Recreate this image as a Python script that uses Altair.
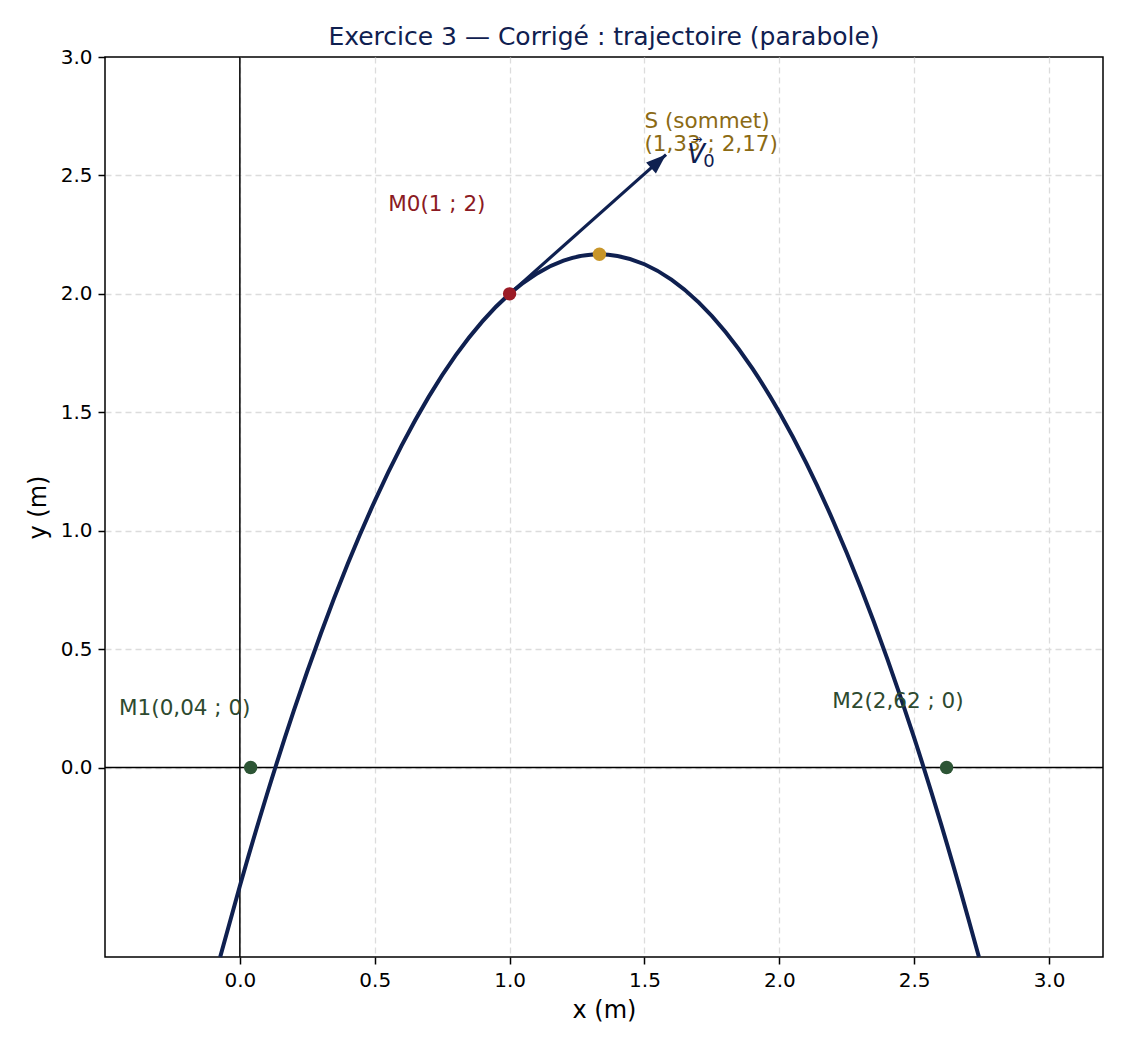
import math
import pandas as pd
import altair as alt

# trajectory (x in m, y in m)
curve_x = [-0.073, 0.0, 0.1, 0.2, 0.3, 0.4, 0.5, 0.6, 0.7, 0.8, 0.9, 1.0, 1.1, 1.2, 1.333,
           1.4, 1.5, 1.6, 1.7, 1.8, 1.9, 2.0, 2.1, 2.2, 2.3, 2.4, 2.5, 2.6, 2.7, 2.74]
curve_y = [-0.8, -0.5, -0.115, 0.24, 0.565, 0.86, 1.125, 1.36, 1.565, 1.74, 1.885, 2.0, 2.085,
           2.14, 2.167, 2.16, 2.125, 2.06, 1.965, 1.84, 1.685, 1.5, 1.285, 1.04, 0.765, 0.46,
           0.125, -0.24, -0.635, -0.8]

# marked points
pt_names = ["M0", "S", "M1", "M2"]
pt_x = [1.0, 1.333, 0.04, 2.62]
pt_y = [2.0, 2.167, 0.0, 0.0]
pt_colors = ["#9b1b26", "#c8962a", "#2d5535", "#2d5535"]

# annotations
lab_text = ["M0(1 ; 2)", "S (sommet)\n(1,33 ; 2,17)", "M1(0,04 ; 0)", "M2(2,62 ; 0)"]
lab_x = [0.55, 1.5, -0.448, 2.196]
lab_y = [2.35, 2.70, 0.22, 0.25]
lab_colors = ["#8b1a23", "#8b6a14", "#2e4a30", "#2e4a30"]

# initial velocity vector
vec_x = [1.0, 1.58]
vec_y = [2.0, 2.588]

x_ticks = [0.0, 0.5, 1.0, 1.5, 2.0, 2.5, 3.0]
y_ticks = [0.0, 0.5, 1.0, 1.5, 2.0, 2.5, 3.0]
x_dom = [-0.5, 3.2]
y_dom = [-0.8, 3.0]

W, H = 998, 900
NAVY = "#0f2050"

xs = alt.Scale(domain=x_dom, nice=False, zero=False)
ys = alt.Scale(domain=y_dom, nice=False, zero=False)
x_axis = alt.Axis(values=x_ticks, format=".1f", title="x (m)")
y_axis = alt.Axis(
    values=y_ticks, format=".1f", title="y (m)",
    gridOpacity={"condition": {"test": f"datum.value >= {y_dom[1]}", "value": 0}, "value": 1},
)


def X(field="x"):
    return alt.X(f"{field}:Q", scale=xs, axis=x_axis)


def Y(field="y"):
    return alt.Y(f"{field}:Q", scale=ys, axis=y_axis)


curve_df = pd.DataFrame({"x": curve_x, "y": curve_y, "o": range(len(curve_x))})
pts_df = pd.DataFrame({"name": pt_names, "x": pt_x, "y": pt_y, "c": pt_colors})
lab_df = pd.DataFrame({"label": lab_text, "x": lab_x, "y": lab_y, "c": lab_colors})
vec_df = pd.DataFrame({"x": vec_x, "y": vec_y, "o": [0, 1]})
head_df = vec_df.iloc[[1]]

# arrow head orientation in screen space
dxp = (vec_x[1] - vec_x[0]) * W / (x_dom[1] - x_dom[0])
dyp = (vec_y[1] - vec_y[0]) * H / (y_dom[1] - y_dom[0])
head_angle = math.degrees(math.atan2(dxp, dyp))

zero_v = alt.Chart(pd.DataFrame({"x": [0.0]})).mark_rule(color="black", strokeWidth=1.5).encode(x=X())
zero_h = alt.Chart(pd.DataFrame({"y": [0.0]})).mark_rule(color="black", strokeWidth=1.5).encode(y=Y())

curve = alt.Chart(curve_df).mark_line(color=NAVY, strokeWidth=4, interpolate="monotone").encode(
    x=X(), y=Y(), order="o:Q"
)

vec_line = alt.Chart(vec_df).mark_line(color=NAVY, strokeWidth=3.2).encode(x=X(), y=Y(), order="o:Q")
vec_head = alt.Chart(head_df).mark_point(
    shape="M0,0L-0.55,1.5L0.55,1.5Z", filled=True, opacity=1, color=NAVY, size=720, angle=head_angle
).encode(x=X(), y=Y())

points = alt.Chart(pts_df).mark_circle(size=180, opacity=1).encode(
    x=X(), y=Y(), color=alt.Color("c:N", scale=None)
)

labels = alt.Chart(lab_df).mark_text(
    align="left", baseline="alphabetic", fontSize=21.5, font="DejaVu Sans", lineBreak="\n", lineHeight=23
).encode(x=X(), y=Y(), text="label:N", color=alt.Color("c:N", scale=None))

# V0 label (vector symbol)
v_df = pd.DataFrame({"x": [1.659], "y": [2.554], "t": ["V"]})
v0_df = pd.DataFrame({"x": [1.718], "y": [2.537], "t": ["0"]})
varr_df = pd.DataFrame({"x": [1.696], "y": [2.655], "t": ["→"]})
v_txt = alt.Chart(v_df).mark_text(
    align="left", baseline="alphabetic", fontSize=26, fontStyle="italic", font="DejaVu Sans", color=NAVY
).encode(x=X(), y=Y(), text="t:N")
v0_txt = alt.Chart(v0_df).mark_text(
    align="left", baseline="alphabetic", fontSize=18, font="DejaVu Sans", color=NAVY
).encode(x=X(), y=Y(), text="t:N")
varr_txt = alt.Chart(varr_df).mark_text(
    align="center", baseline="middle", fontSize=12, font="DejaVu Sans", color=NAVY
).encode(x=X(), y=Y(), text="t:N")

chart = alt.layer(
    zero_v, zero_h, curve, vec_line, vec_head, points, labels, v_txt, v0_txt, varr_txt
).properties(
    width=W,
    height=H,
    autosize=alt.AutoSizeParams(type="none"),
    padding={"left": 97, "top": 49, "right": 14, "bottom": 80},
    title=alt.Title(
        "Exercice 3 — Corrigé : trajectoire (parabole)",
        color=NAVY, fontSize=25, fontWeight="normal", font="DejaVu Sans", offset=-3, anchor="middle",
    ),
).configure_view(
    stroke="black", strokeWidth=1.5
).configure_axis(
    domain=False,
    grid=True,
    gridColor="#dcdcdc",
    gridDash=[6, 4],
    gridWidth=1.3,
    tickColor="black",
    tickSize=7,
    tickWidth=1.5,
    labelFont="DejaVu Sans",
    labelFontSize=20,
    labelColor="black",
    labelPadding=6,
    titleFont="DejaVu Sans",
    titleFontSize=24,
    titleFontWeight="normal",
    titleColor="black",
).configure_axisX(
    titlePadding=8,
).configure_axisY(
    titlePadding=10,
)

chart.save("out.html", embed_options={"renderer": "svg", "actions": False})
